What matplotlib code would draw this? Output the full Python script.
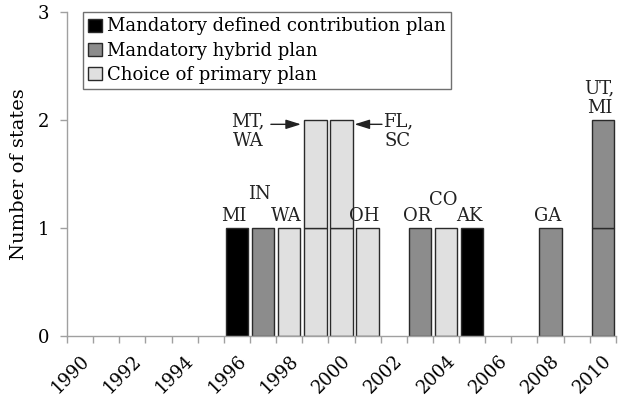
import numpy as np
import matplotlib.pyplot as plt

# states adopting each plan type, by year
years = list(range(1990, 2011))
dc_plan = [0, 0, 0, 0, 0, 0, 1, 0, 0, 0, 0, 0, 0, 0, 0, 1, 0, 0, 0, 0, 0]
hybrid_plan = [0, 0, 0, 0, 0, 0, 0, 1, 0, 0, 0, 0, 0, 1, 0, 0, 0, 0, 1, 0, 2]
choice_plan = [0, 0, 0, 0, 0, 0, 0, 0, 1, 2, 2, 1, 0, 0, 1, 0, 0, 0, 0, 0, 0]

series_names = ["Mandatory defined contribution plan",
                "Mandatory hybrid plan",
                "Choice of primary plan"]

label_years = [1996, 1997, 1998, 2001, 2003, 2004, 2005, 2008, 2010]
label_text = ["MI", "IN", "WA", "OH", "OR", "CO", "AK", "GA", "UT,\nMI"]

plt.rcParams['font.family'] = 'DejaVu Serif'
plt.rcParams['font.size'] = 13

fig = plt.figure(figsize=(6.24, 4.0), dpi=100)
ax = fig.add_axes([0.1074, 0.16, 0.8796, 0.81])

colors = ["#000000", "#8c8c8c", "#e0e0e0"]
edge = "#2a2a2a"
txt_col = "#222222"
bar_w = 0.86

bottom = np.zeros(len(years))
for vals, col, name in zip([dc_plan, hybrid_plan, choice_plan], colors, series_names):
    for i, (yr, v) in enumerate(zip(years, vals)):
        # one segment per state
        for k in range(v):
            ax.bar(yr, 1, bottom=bottom[i] + k, width=bar_w, color=col,
                   edgecolor=edge, linewidth=1.0)
        bottom[i] += v
    ax.bar(0, 0, color=col, edgecolor=edge, linewidth=1.0, label=name)

# labels above bars
label_dy = {"IN": 0.2, "CO": 0.15}
for yr, txt in zip(label_years, label_text):
    i = years.index(yr)
    ax.text(yr - 0.12, bottom[i] + 0.03 + label_dy.get(txt, 0), txt,
            ha="center", va="bottom", color=txt_col, linespacing=1.1)

# arrow labels for the two tall choice bars
arrow = dict(arrowstyle="-|>,head_length=0.7,head_width=0.22", color=txt_col,
             lw=1, shrinkA=0, shrinkB=0)
ax.text(1996.42, 2.07, "MT,\nWA", ha="center", va="top", color=txt_col,
        linespacing=1.1)
ax.annotate("", xy=(1998.45, 1.96), xytext=(1997.3, 1.96), arrowprops=arrow)
ax.text(2002.15, 2.07, "FL,\nSC", ha="center", va="top", color=txt_col,
        linespacing=1.1)
ax.annotate("", xy=(2000.5, 1.96), xytext=(2001.55, 1.96), arrowprops=arrow)

ax.set_xlim(1989.5, 2010.5)
ax.set_ylim(0, 3)
ax.set_yticks([0, 1, 2, 3])
ax.set_xticks(years[::2])
ax.set_xticklabels([str(y) for y in years[::2]], rotation=45,
                   ha="right", rotation_mode="anchor")
ax.set_xticks(np.arange(1989.5, 2011, 1), minor=True)
ax.tick_params(axis="x", which="major", length=0, pad=11)
ax.tick_params(axis="x", which="minor", length=5, color="#a0a0a0", width=1)
ax.tick_params(axis="y", length=5, color="#a0a0a0", width=1, pad=8)

for s in ["top", "right"]:
    ax.spines[s].set_visible(False)
for s in ["left", "bottom"]:
    ax.spines[s].set_color("#a0a0a0")
    ax.spines[s].set_linewidth(1)

ax.set_ylabel("Number of states", fontsize=14, labelpad=7)

leg = ax.legend(loc="upper left", bbox_to_anchor=(0.029, 1.0), borderaxespad=0,
                fancybox=False, edgecolor="#707070", framealpha=1,
                handlelength=0.75, handleheight=0.75, handletextpad=0.3,
                labelspacing=0.35, borderpad=0.3)
leg.get_frame().set_linewidth(1)

fig.savefig("out.png", dpi=100)
